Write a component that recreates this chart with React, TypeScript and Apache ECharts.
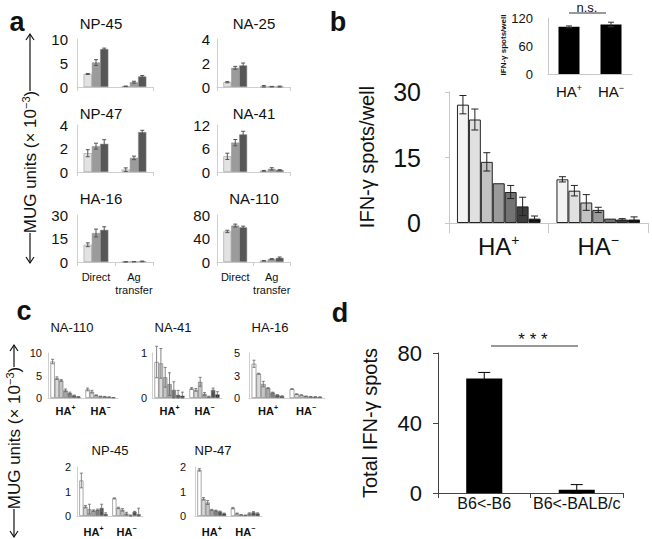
import React, { useEffect, useRef } from "react";
import * as echarts from "echarts";

const FONT = "'Liberation Sans', Arial, Helvetica, sans-serif";

// ---------- Panel a ----------
const aCats = ["Direct", "Ag\ntransfer"];
const aColors = ["#e2e2e2", "#9b9b9b", "#575757"];
const aNP45 = [[2.7, 5.1, 7.9], [0.15, 1.0, 2.2]];
const aNP45Err = [[0.1, 0.6, 0.2], [0.05, 0.2, 0.2]];
const aNA25 = [[0.4, 1.6, 1.8], [0.03, 0.03, 0.03]];
const aNA25Err = [[0.05, 0.12, 0.2], [0.1, 0.02, 0.05]];
const aNP47 = [[1.6, 2.2, 2.4], [0.2, 1.2, 3.4]];
const aNP47Err = [[0.3, 0.25, 0.35], [0.15, 0.15, 0.15]];
const aNA41 = [[4.0, 7.5, 9.6], [0.3, 0.8, 0.5]];
const aNA41Err = [[0.8, 0.8, 0.8], [0.1, 0.3, 0.1]];
const aHA16 = [[11, 18.5, 20.5], [0.1, 0.2, 0.4]];
const aHA16Err = [[1.2, 2.5, 2], [0.05, 0.1, 0.2]];
const aNA110 = [[52, 62, 59], [2, 5, 7]];
const aNA110Err = [[2, 2.5, 2], [0.5, 0.8, 1.5]];

// ---------- Panel b ----------
const bCats = ["HA+", "HA−"];
const bColors = ["#f3f3f3", "#e0e0e0", "#c2c2c2", "#9a9a9a", "#737373", "#3d3d3d", "#0a0a0a"];
const bHAplus = [27.1, 23.7, 14.0, 9.1, 7.1, 3.8, 1.0];
const bHAplusErr = [2.1, 2.4, 2.1, 0, 1.5, 2.1, 0.6];
const bHAminus = [10.0, 7.4, 4.7, 3.0, 1.0, 0.8, 0.8];
const bHAminusErr = [0.6, 1.2, 1.8, 0.6, 0, 0.2, 0.6];
const bInsetVals = [101, 106];
const bInsetErr = [2, 5];

// ---------- Panel c ----------
const cCats = ["HA+", "HA−"];
const cColors = ["#ffffff", "#d9d9d9", "#c4c4c4", "#a6a6a6", "#7f7f7f", "#4f4f4f", "#1a1a1a"];
const cNA110 = [[8.1, 4.4, 3.9, 1.7, 1.1, 0.55, 0.27], [1.9, 1.4, 0.6, 0.35, 0.3, 0.2, 0.1]];
const cNA110Err = [[0.5, 0.3, 0.2, 0.3, 0.2, 0.1, 0.05], [0.3, 0.3, 0.1, 0.05, 0.05, 0.05, 0.02]];
const cNA41 = [[0.8, 0.77, 0.46, 0.31, 0.18, 0.07, 0.05], [0.21, 0.18, 0.36, 0.09, 0.03, 0.18, 0.08]];
const cNA41Err = [[0.35, 0.33, 0.22, 0.25, 0.18, 0.1, 0.08], [0.02, 0.03, 0.1, 0.03, 0.01, 0.04, 0.06]];
const cHA16 = [[3.8, 2.7, 1.55, 1.1, 0.6, 0.33, 0.2], [1.0, 0.43, 0.33, 0.2, 0.15, 0.12, 0.1]];
const cHA16Err = [[0.4, 0.05, 0.3, 0.05, 0.05, 0.05, 0.05], [0.03, 0.03, 0.02, 0.02, 0.02, 0.02, 0.02]];
const cHA16TickLabels = ["0", "3", "5"];
const cNP45 = [[1.45, 0.38, 0.28, 0.22, 0.25, 0.33, 0.08], [0.72, 0.33, 0.25, 0.1, 0.02, 0.17, 0.07]];
const cNP45Err = [[0.3, 0.05, 0.2, 0.03, 0.03, 0.15, 0.05], [0.02, 0.03, 0.05, 0.05, 0.02, 0.02, 0.25]];
const cNP47 = [[1.88, 0.7, 0.55, 0.25, 0.22, 0.18, 0.1], [0.32, 0.1, 0.05, 0.03, 0.1, 0.15, 0.1]];
const cNP47Err = [[0.05, 0.05, 0.08, 0.02, 0.02, 0.02, 0.02], [0.03, 0.02, 0.01, 0.01, 0.03, 0.03, 0.03]];

// ---------- Panel d ----------
const dCats = ["B6<-B6", "B6<-BALB/c"];
const dVals = [65.5, 1.9];
const dErr = [3.4, 2.9];

type Acc = { grid: any[]; xAxis: any[]; yAxis: any[]; series: any[] };

const mkErr = (n: number, gap: number, cap: number, color: string, lw: number) => (_p: any, api: any) => {
  const ci = api.value(0);
  const j = api.value(1);
  const v = api.value(2);
  const e = api.value(3);
  if (!e) return { type: "group", children: [] };
  const band = api.size([1, 0])[0];
  const bw = (band * (1 - gap)) / n;
  const p = api.coord([ci, v]);
  const x = p[0] + (j - (n - 1) / 2) * bw;
  const yt = api.coord([ci, v + e])[1];
  const yb = api.coord([ci, Math.max(0, v - e)])[1];
  const st = { stroke: color, lineWidth: lw };
  return {
    type: "group",
    children: [
      { type: "line", shape: { x1: x, y1: yt, x2: x, y2: yb }, style: st },
      { type: "line", shape: { x1: x - cap / 2, y1: yt, x2: x + cap / 2, y2: yt }, style: st },
      { type: "line", shape: { x1: x - cap / 2, y1: yb, x2: x + cap / 2, y2: yb }, style: st },
    ],
  };
};

function addPanel(acc: Acc, o: any) {
  const idx = acc.grid.length;
  acc.grid.push({ left: o.left, top: o.top, width: o.width, height: o.height, containLabel: false });
  acc.xAxis.push({
    type: "category",
    gridIndex: idx,
    data: o.cats,
    axisLine: { show: true, lineStyle: { color: o.axisColor, width: 1 } },
    axisTick: { show: !!o.xTickLen, length: o.xTickLen || 0, lineStyle: { color: o.axisColor } },
    axisLabel: o.xLabel ? { show: true, interval: 0, ...o.xLabel } : { show: false },
    splitLine: { show: false },
  });
  acc.yAxis.push({
    type: "value",
    gridIndex: idx,
    min: 0,
    max: o.max,
    interval: o.interval,
    axisLine: { show: true, lineStyle: { color: o.axisColor, width: 1 } },
    axisTick: { show: !!o.yTickLen, length: o.yTickLen || 0, lineStyle: { color: o.axisColor } },
    splitLine: { show: false },
    axisLabel: {
      fontSize: o.yFont,
      color: "#111",
      fontFamily: FONT,
      margin: o.yMargin,
      formatter: o.yFmt,
    },
  });
  const n = o.colors.length;
  for (let j = 0; j < n; j++) {
    acc.series.push({
      type: "bar",
      xAxisIndex: idx,
      yAxisIndex: idx,
      data: o.vals.map((r: number[]) => r[j]),
      barGap: "0%",
      barCategoryGap: o.gap * 100 + "%",
      itemStyle: { color: o.colors[j], borderColor: o.border, borderWidth: o.borderWidth },
      silent: true,
    });
  }
  const errData: number[][] = [];
  o.vals.forEach((r: number[], ci: number) => r.forEach((v, j) => errData.push([ci, j, v, o.errs[ci][j]])));
  acc.series.push({
    type: "custom",
    xAxisIndex: idx,
    yAxisIndex: idx,
    data: errData,
    encode: { x: 0, y: 2 },
    z: 5,
    silent: true,
    renderItem: mkErr(n, o.gap, o.cap, o.errColor, o.errWidth || 1),
  });
}

const supFmt = (v: string) => `{m|${v.slice(0, 2)}}{s|${v.slice(2)}}`;
const supRich = (size: number, sup: number, lh: number, bold = false) => ({
  m: { fontSize: size, lineHeight: lh, fontFamily: FONT, color: "#111", fontWeight: bold ? "bold" : "normal" },
  s: {
    fontSize: sup,
    lineHeight: sup,
    verticalAlign: "top",
    fontFamily: FONT,
    color: "#111",
    fontWeight: bold ? "bold" : "normal",
  },
});

function txt(x: number, y: number, text: string, size: number, extra: any = {}) {
  return {
    type: "text",
    x,
    y,
    rotation: extra.rotation || 0,
    style: {
      text,
      fontSize: size,
      fontFamily: FONT,
      fontWeight: extra.bold ? "bold" : "normal",
      fill: "#111",
      align: "center",
      verticalAlign: "middle",
      rich: extra.rich,
    },
  };
}

function mugTitle(x: number, yc: number, arrowTop: number, arrowBottom: number, textHalf: number) {
  const st = { stroke: "#111", lineWidth: 1.2, fill: "none" };
  return [
    {
      type: "text",
      x,
      y: yc,
      rotation: Math.PI / 2,
      style: {
        text: "{m|MUG units (× 10}{s|−3}{m|)}",
        align: "center",
        verticalAlign: "middle",
        rich: {
          m: { fontSize: 17, lineHeight: 20, fontFamily: FONT, fill: "#111" },
          s: { fontSize: 11, lineHeight: 11, verticalAlign: "top", fontFamily: FONT, fill: "#111" },
        },
      },
    },
    { type: "line", shape: { x1: x, y1: yc - textHalf - 2, x2: x, y2: arrowTop }, style: st },
    { type: "polyline", shape: { points: [[x - 4, arrowTop + 6], [x, arrowTop], [x + 4, arrowTop + 6]] }, style: st },
    { type: "line", shape: { x1: x, y1: yc + textHalf + 2, x2: x, y2: arrowBottom }, style: st },
    {
      type: "polyline",
      shape: { points: [[x - 4, arrowBottom - 6], [x, arrowBottom], [x + 4, arrowBottom - 6]] },
      style: st,
    },
  ];
}

function buildOption() {
  const acc: Acc = { grid: [], xAxis: [], yAxis: [], series: [] };

  // panel a
  const aBase = {
    cats: aCats,
    colors: aColors,
    gap: 0.35,
    border: "#8a8a8a",
    borderWidth: 0.5,
    errColor: "#555",
    cap: 4,
    axisColor: "#cfcfcf",
    xTickLen: 4,
    yFont: 15,
  };
  const aBottomLabel = { fontSize: 11, color: "#111", fontFamily: FONT, margin: 8, lineHeight: 13 };
  addPanel(acc, { ...aBase, left: 77, top: 39, width: 76, height: 48, vals: aNP45, errs: aNP45Err, max: 10, interval: 5, yMargin: 9 });
  addPanel(acc, { ...aBase, left: 217, top: 39, width: 73, height: 48, vals: aNA25, errs: aNA25Err, max: 4, interval: 2, yMargin: 7 });
  addPanel(acc, { ...aBase, left: 77, top: 125, width: 76, height: 47, vals: aNP47, errs: aNP47Err, max: 4, interval: 2, yMargin: 9 });
  addPanel(acc, { ...aBase, left: 217, top: 125, width: 73, height: 47, vals: aNA41, errs: aNA41Err, max: 12, interval: 6, yMargin: 7 });
  addPanel(acc, { ...aBase, left: 77, top: 215, width: 76, height: 47, vals: aHA16, errs: aHA16Err, max: 30, interval: 15, yMargin: 9, xLabel: aBottomLabel });
  addPanel(acc, { ...aBase, left: 217, top: 215, width: 73, height: 47, vals: aNA110, errs: aNA110Err, max: 80, interval: 40, yMargin: 7, xLabel: aBottomLabel });

  // panel b main
  addPanel(acc, {
    left: 449, top: 92, width: 199, height: 131,
    cats: bCats, colors: bColors, vals: [bHAplus, bHAminus],
    errs: [bHAplusErr, bHAminusErr], gap: 0.16, border: "#222", borderWidth: 1,
    errColor: "#222", cap: 7, axisColor: "#c8c8c8", xTickLen: 10, yTickLen: 4,
    yFont: 25, yMargin: 28, max: 30, interval: 15,
    xLabel: { formatter: supFmt, rich: supRich(24, 14, 26), margin: 10 },
  });
  // panel b inset
  addPanel(acc, {
    left: 548, top: 18, width: 84, height: 56,
    cats: bCats, colors: ["#000"], vals: [[bInsetVals[0]], [bInsetVals[1]]], errs: [[bInsetErr[0]], [bInsetErr[1]]],
    gap: 0.5, border: "#000", borderWidth: 0, errColor: "#333", cap: 6, axisColor: "#c8c8c8",
    yFont: 13, yMargin: 15, max: 120, interval: 60,
    xLabel: { formatter: supFmt, rich: supRich(15, 9, 17), margin: 9 },
  });

  // panel c
  const cBase = {
    cats: cCats, colors: cColors, gap: 0.14, border: "#707070", borderWidth: 0.6,
    errColor: "#666", cap: 3, axisColor: "#d0d0d0", yFont: 11, errWidth: 0.8,
  };
  const cLabel = { formatter: supFmt, rich: supRich(11, 7, 13, true), margin: 6 };
  addPanel(acc, { ...cBase, left: 48, top: 353, width: 70, height: 45, vals: cNA110, errs: cNA110Err, max: 10, interval: 5, yMargin: 6, xLabel: cLabel });
  addPanel(acc, { ...cBase, left: 152, top: 353, width: 70, height: 45, vals: cNA41, errs: cNA41Err, max: 1, interval: 1, yMargin: 5, xLabel: cLabel });
  addPanel(acc, {
    ...cBase, left: 249, top: 353, width: 76, height: 45, vals: cHA16, errs: cHA16Err, max: 5, interval: 2.5, yMargin: 9,
    yFmt: (_v: number, i: number) => cHA16TickLabels[i], xLabel: cLabel,
  });
  addPanel(acc, { ...cBase, left: 77, top: 467, width: 66, height: 49, vals: cNP45, errs: cNP45Err, max: 2, interval: 1, yMargin: 6, xLabel: { ...cLabel, margin: 9 } });
  addPanel(acc, { ...cBase, left: 195, top: 467, width: 67, height: 49, vals: cNP47, errs: cNP47Err, max: 2, interval: 1, yMargin: 9, xLabel: { ...cLabel, margin: 9 } });

  // panel d
  addPanel(acc, {
    left: 438, top: 353, width: 185, height: 140,
    cats: dCats, colors: ["#000"], vals: [[dVals[0]], [dVals[1]]], errs: [[dErr[0]], [dErr[1]]],
    gap: 0.61, border: "#000", borderWidth: 0, errColor: "#000", cap: 12, axisColor: "#444",
    xTickLen: 5, yTickLen: 5, yFont: 22, yMargin: 16, max: 80, interval: 40,
    xLabel: { fontSize: 16, color: "#111", fontFamily: FONT, margin: 2 },
  });

  const graphic: any[] = [
    txt(17, 22, "a", 27, { bold: true }),
    txt(338, 22, "b", 27, { bold: true }),
    txt(24, 311, "c", 27, { bold: true }),
    txt(340, 313, "d", 27, { bold: true }),
    // panel a titles
    txt(101, 23, "NP-45", 15),
    txt(254, 23, "NA-25", 15),
    txt(101, 113, "NP-47", 15),
    txt(254, 113, "NA-41", 15),
    txt(101, 198, "HA-16", 15),
    txt(254, 198, "NA-110", 15),
    // panel c titles
    txt(72, 327, "NA-110", 13),
    txt(173, 327, "NA-41", 13),
    txt(270, 327, "HA-16", 13),
    txt(110, 450, "NP-45", 13),
    txt(213, 450, "NP-47", 13),
    // axis titles
    txt(367, 157, "IFN-γ spots/well", 20, { rotation: Math.PI / 2 }),
    txt(503, 45, "IFN-γ spots/well", 8, { rotation: Math.PI / 2, bold: true }),
    txt(370, 423, "Total IFN-γ spots", 20, { rotation: Math.PI / 2 }),
    // significance
    txt(587, 7, "n.s.", 13),
    { type: "line", shape: { x1: 569, y1: 13, x2: 606, y2: 13 }, style: { stroke: "#333", lineWidth: 1 } },
    txt(533, 339, "* * *", 17),
    { type: "line", shape: { x1: 491, y1: 346, x2: 578, y2: 346 }, style: { stroke: "#333", lineWidth: 1 } },
    ...mugTitle(30, 162, 34, 263, 69),
    ...mugTitle(14, 438, 345, 537, 69),
  ];

  return {
    animation: false,
    backgroundColor: "#ffffff",
    grid: acc.grid,
    xAxis: acc.xAxis,
    yAxis: acc.yAxis,
    series: acc.series,
    graphic,
  };
}

export default function App() {
  const ref = useRef<HTMLDivElement>(null);
  useEffect(() => {
    if (!ref.current) return;
    const chart = echarts.init(ref.current, undefined, { renderer: "svg" });
    chart.setOption(buildOption() as any);
    return () => chart.dispose();
  }, []);
  return (
    <div
      ref={ref}
      style={{ position: "fixed", left: 0, top: 0, width: 652, height: 539, background: "#fff" }}
    />
  );
}
